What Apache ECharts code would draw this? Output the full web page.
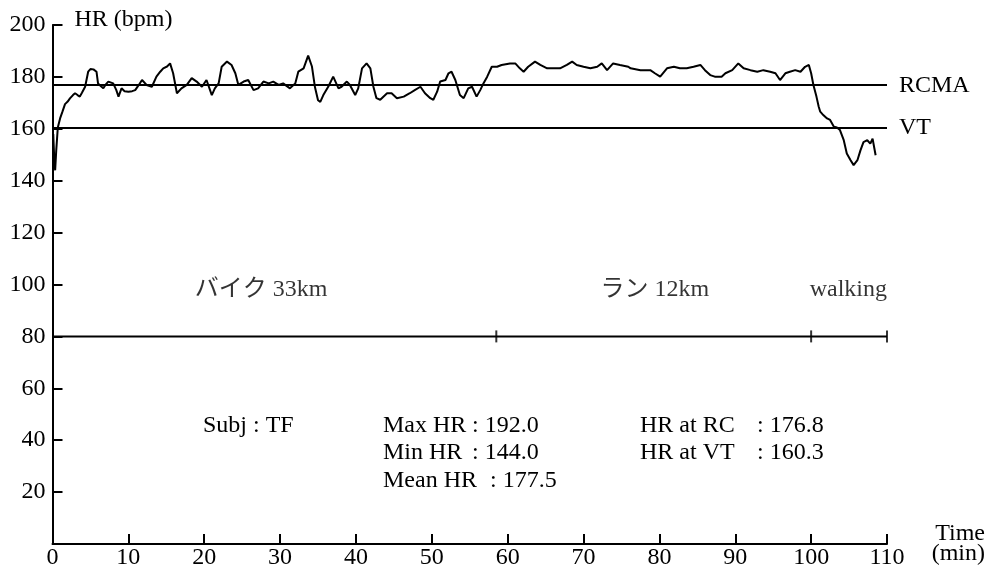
<!DOCTYPE html>
<html>
<head>
<meta charset="utf-8">
<script src="https://cdn.jsdelivr.net/npm/echarts@6/dist/echarts.min.js"></script>
<style>
html,body{margin:0;padding:0;background:#fff;}
#chart{width:990px;height:572px;}
</style>
</head>
<body>
<div id="chart"></div>
<script>
// ---- data ----
var timeMin = [0.1,0.25,0.35,0.5,0.7,1.0,1.3,1.65,2.0,2.3,2.7,2.97,3.3,3.6,3.9,4.3,4.7,5.0,5.4,5.8,6.0,6.35,6.7,7.0,7.36,8.0,8.4,8.7,9.1,9.5,10.0,10.5,10.9,11.4,11.8,12.4,13.1,13.7,14.2,14.6,15.1,15.5,15.9,16.4,17.0,17.7,18.35,19.0,19.7,20.3,21.0,21.4,21.9,22.3,23.0,23.6,24.1,24.5,25.2,25.8,26.5,27.1,27.8,28.5,29.1,29.8,30.4,31.3,32.0,32.4,33.1,33.7,34.2,34.6,35.0,35.3,35.7,36.4,37.0,37.7,38.1,38.8,39.2,39.9,40.3,40.8,41.4,41.9,42.3,42.7,43.2,44.1,44.7,45.4,46.3,47.1,47.8,48.5,49.1,49.8,50.2,50.7,51.1,51.8,52.2,52.6,53.1,53.7,54.2,54.8,55.3,55.9,56.4,56.8,57.3,57.9,58.6,59.2,60.3,61.0,61.6,62.1,62.7,63.6,64.3,65.2,66.0,66.9,67.8,68.5,69.1,70.0,70.9,71.8,72.4,73.1,73.9,74.8,75.9,76.2,77.5,78.8,79.4,80.1,81.0,81.9,82.7,83.6,84.5,85.4,86.0,86.7,87.3,88.2,88.7,89.6,90.4,91.1,92.0,92.9,93.7,94.6,95.3,95.9,96.6,97.2,97.9,98.6,99.2,99.7,100.0,100.3,100.7,101.0,101.2,101.6,102.1,102.5,103.0,103.4,103.8,104.3,104.7,105.2,105.6,106.1,106.5,106.9,107.4,107.8,108.1,108.3,108.5];
var heartRate = [158,147,144,152,160.5,164,166.5,169.5,170.5,171.7,173,173.7,173,172.4,174,176.2,182,183,182.9,182,177.5,176.5,175.6,177,178.2,177.5,175,172.4,175.6,174.5,174.3,174.5,174.9,177,178.8,176.9,176.2,180.1,182,183.3,184,185.2,181.4,173.7,175.6,176.9,179.5,178.2,176.2,178.8,173,175.6,177.5,183.9,185.9,184.6,181.4,176.9,178.2,178.8,174.9,175.6,178.2,177.5,178.2,176.9,177.5,175.6,177.5,182,183.3,188.2,184,176,171,170.4,173,176.5,180.1,175.6,176.2,178.2,176.9,173,175.6,183.3,185.2,183.3,176.2,171.8,171.2,173.7,173.7,171.8,172.4,173.7,175,176.2,173.7,171.8,171.2,174.3,178.2,178.8,181.4,182,178.8,173,171.8,175.6,176.2,172.4,175,177.5,180.1,183.9,183.9,184.6,185.2,185.2,183.3,182,183.9,185.9,184.6,183.3,183.3,183.3,184.6,185.9,184.6,183.9,183.3,183.9,185.2,182.6,185.2,184.6,183.9,183.3,182.6,182.6,181.4,180.1,183.3,183.9,183.3,183.3,183.9,184.6,182.6,180.7,180.1,180.1,181.4,182.6,185.2,183.3,182.6,182,182.6,182,181.4,178.8,181.4,182,182.6,182,183.9,184.6,181.4,176.9,172.4,168.5,166.6,165.3,164,163.4,160.8,160.5,159.5,155.6,150.5,147.9,146,147.9,151.7,154.9,155.6,154.3,156.2,153,149.8];

var refLineNames = ['RCMA','VT'];
var refLineValues = [176.8, 160.3];

var phaseLevel = 80;
var phaseStart = 0;
var phaseBounds = [58.5, 100, 110];
var phaseNames = ['バイク 33km', 'ラン 12km', 'walking'];
var phaseLabelAt = [27.5, 79.4, 104.9];

var subjText = 'Subj : TF';
var statNamesA = ['Max HR', 'Min HR', 'Mean HR'];
var statValuesA = ['192.0', '144.0', '177.5'];
var statNamesB = ['HR at RC', 'HR at VT'];
var statValuesB = ['176.8', '160.3'];

// ---- chart ----
var FONT = "'Liberation Serif', 'Times New Roman', 'Noto Sans CJK JP', serif";
var FS = 24;
var chart = echarts.init(document.getElementById('chart'), null, {renderer:'canvas'});

var hrData = timeMin.map(function(t,i){return [t, heartRate[i]];});
var phaseTicks = phaseBounds.map(function(b){return [b, phaseLevel];});
var phaseLbl = phaseNames.map(function(n,i){return {value:[phaseLabelAt[i], phaseLevel], name:n};});

var graphics = [];
function txt(t, x, y){
  graphics.push({type:'text', left:x, top:y, style:{text:t, fill:'#000', font: FS+'px '+FONT}});
}
var rowY = [414, 441, 469];
var colonX = [472, 472, 490];
txt(subjText, 203, rowY[0]);
statNamesA.forEach(function(n,i){ txt(n, 383, rowY[i]); txt(': ' + statValuesA[i], colonX[i], rowY[i]); });
statNamesB.forEach(function(n,i){ txt(n, 640, rowY[i]); txt(': ' + statValuesB[i], 757, rowY[i]); });

var option = {
  animation:false,
  backgroundColor:'#fff',
  textStyle:{fontFamily:FONT},
  grid:{left:52.5, right:103, top:25, bottom:28, containLabel:false},
  xAxis:{
    type:'value', min:0, max:110, interval:10,
    name:'Time\n(min)', nameLocation:'end', nameGap:98,
    nameTextStyle:{color:'#000', fontSize:FS, fontFamily:FONT, align:'right', verticalAlign:'middle', lineHeight:20},
    axisLine:{show:true, onZero:false, lineStyle:{color:'#000', width:2}},
    axisTick:{show:true, inside:true, length:10, lineStyle:{color:'#000', width:2}},
    axisLabel:{color:'#000', fontSize:FS, fontFamily:FONT, margin:2},
    splitLine:{show:false}
  },
  yAxis:{
    type:'value', min:0, max:200, interval:20,
    name:'HR (bpm)', nameLocation:'end', nameGap:5,
    nameTextStyle:{color:'#000', fontSize:FS, fontFamily:FONT, align:'left', verticalAlign:'middle', padding:[0,0,0,22]},
    axisLine:{show:true, onZero:false, lineStyle:{color:'#000', width:2}},
    axisTick:{show:true, inside:true, length:10, lineStyle:{color:'#000', width:2}},
    axisLabel:{color:'#000', fontSize:FS, fontFamily:FONT, margin:7,
      formatter:function(v){return v===0?'':String(v);}},
    splitLine:{show:false}
  },
  series:[
    {
      type:'line', data:hrData, showSymbol:false, symbol:'none',
      lineStyle:{color:'#000', width:2}, z:5,
      markLine:{
        silent:true, symbol:['none','none'],
        lineStyle:{color:'#000', width:2, type:'solid'},
        label:{show:true, position:'end', distance:12, color:'#000', fontSize:FS, fontFamily:FONT, formatter:'{b}'},
        data: refLineNames.map(function(n,i){return {name:n, yAxis:refLineValues[i]};})
      }
    },
    {
      type:'line', data:[[phaseStart, phaseLevel],[phaseBounds[phaseBounds.length-1], phaseLevel]],
      showSymbol:false, symbol:'none', lineStyle:{color:'#000', width:2}
    },
    {
      type:'scatter', data:phaseTicks, symbol:'rect', symbolSize:[2,12],
      itemStyle:{color:'#000'}
    },
    {
      type:'scatter', data:phaseLbl, symbolSize:0,
      label:{show:true, position:'inside', offset:[0,-47], color:'#000', fontSize:FS, fontFamily:FONT, formatter:'{b}'}
    }
  ],
  graphic:graphics
};
chart.setOption(option);
</script>
</body>
</html>
